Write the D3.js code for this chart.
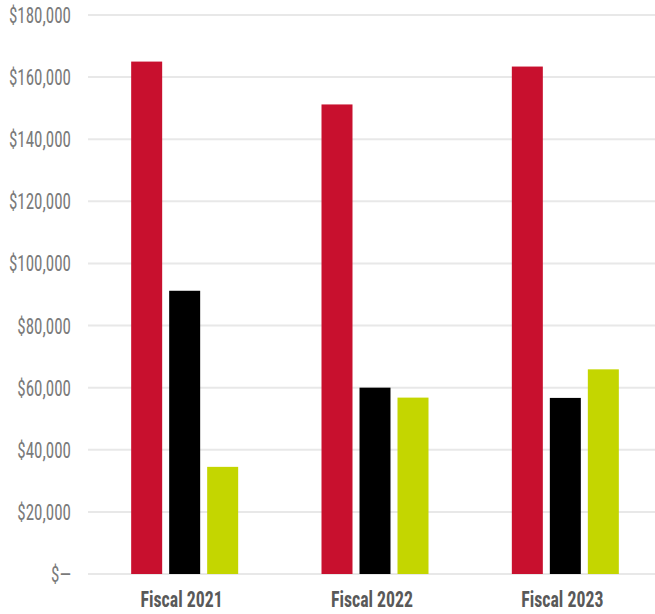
<!DOCTYPE html>
<html>
<head>
<meta charset="utf-8">
<script src="https://cdn.jsdelivr.net/npm/d3@7"></script>
<style>
  html, body { margin: 0; padding: 0; background: #ffffff; }
  svg { display: block; }
</style>
</head>
<body>
<svg id="chart" width="655" height="614"></svg>
<script>
// Fiscal years and the three spending series per year
const categories = ["Fiscal 2021", "Fiscal 2022", "Fiscal 2023"];
const seriesNames = ["Series A", "Series B", "Series C"];
const seriesA = [165000, 151200, 163400];
const seriesB = [91200, 60000, 56700];
const seriesC = [34500, 56800, 65900];
const seriesColors = ["#c8102e", "#000000", "#c4d600"];
const yTicks = [0, 20000, 40000, 60000, 80000, 100000, 120000, 140000, 160000, 180000];

const values = [seriesA, seriesB, seriesC];
const rows = categories.map((c, i) => ({
  category: c,
  bars: seriesNames.map((s, j) => ({ series: s, value: values[j][i], color: seriesColors[j] }))
}));

const svg = d3.select("#chart");
const plot = { left: 88, right: 655, top: 15, bottom: 574 };

const y = d3.scaleLinear().domain([0, 180000]).range([plot.bottom, plot.top]);
const x0 = d3.scaleBand().domain(categories).range([89.5, 660.5]).padding(0);
const groupWidth = 107;
const x1 = d3.scaleBand().domain(seriesNames).range([0, groupWidth]).paddingInner(7 / 38).paddingOuter(0);
const groupOffset = (x0.bandwidth() - groupWidth) / 2;

const fmt = v => v === 0 ? "$\u2014" : "$" + d3.format(",")(v);

// horizontal gridlines
svg.append("g")
  .selectAll("line")
  .data(yTicks)
  .join("line")
  .attr("x1", plot.left)
  .attr("x2", plot.right)
  .attr("y1", d => y(d))
  .attr("y2", d => y(d))
  .attr("stroke", "#e8e8e8")
  .attr("stroke-width", 2);

// y-axis labels
const yAxis = d3.axisLeft(y).tickValues(yTicks).tickFormat(fmt).tickSize(0).tickPadding(0);
const yg = svg.append("g").attr("transform", "translate(71,0)").call(yAxis);
yg.select(".domain").remove();
yg.selectAll("text")
  .attr("fill", "#7a7a7a")
  .attr("font-family", "'Liberation Sans Narrow', 'Roboto Condensed', 'Arial Narrow', sans-serif")
  .attr("font-size", 17)
  .attr("dy", null)
  .attr("x", 0)
  .attr("y", 0)
  .attr("transform", "translate(0,7.5) scale(1,1.25)");

// bars
const groups = svg.append("g")
  .selectAll("g")
  .data(rows)
  .join("g")
  .attr("transform", d => `translate(${x0(d.category) + groupOffset},0)`);

groups.selectAll("rect")
  .data(d => d.bars)
  .join("rect")
  .attr("x", d => x1(d.series))
  .attr("width", x1.bandwidth())
  .attr("y", d => y(d.value))
  .attr("height", d => y(0) - y(d.value))
  .attr("fill", d => d.color);

// category labels
const xAxis = d3.axisBottom(x0).tickSize(0).tickPadding(0);
const xg = svg.append("g").attr("transform", `translate(-3,${plot.bottom})`).call(xAxis);
xg.select(".domain").remove();
xg.selectAll("text")
  .attr("fill", "#595959")
  .attr("font-family", "'Liberation Sans Narrow', 'Roboto Condensed', 'Arial Narrow', sans-serif")
  .attr("font-weight", "bold")
  .attr("font-size", 17.8)
  .attr("dy", null)
  .attr("y", 0)
  .attr("transform", "translate(0,32.7) scale(1,1.26)");
</script>
</body>
</html>
